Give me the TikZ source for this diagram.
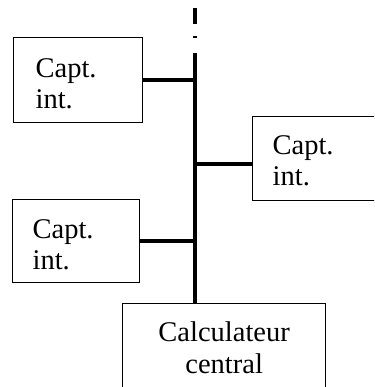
\documentclass[tikz,border=0pt]{standalone}
\usepackage{fontspec}
\setmainfont{Liberation Serif}
\begin{document}
\begin{tikzpicture}[x=1pt,y=-1pt,
  capbox/.style={draw, line width=1.3pt, rectangle, anchor=north west, align=left,
    font=\fontsize{28.5}{31}\selectfont, inner ysep=0pt},
  calcbox/.style={draw, line width=1.3pt, rectangle, anchor=north west, align=center,
    font=\fontsize{28.5}{32}\selectfont, inner ysep=0pt},
  bus/.style={line width=3.4pt},
  conn/.style={line width=3.6pt}]
\useasboundingbox (0,0) rectangle (374,387);
\clip (0,0) rectangle (374,387);
\fill[white] (0,0) rectangle (374,387);
\node[capbox, minimum width=129pt, minimum height=85pt, text width=85pt] (b1) at (13,37)
  {\rule{0pt}{26pt}Capt.\\int.};
\node[capbox, minimum width=130pt, minimum height=84pt, text width=90pt] (b2) at (252,116)
  {\rule{0pt}{24pt}Capt.\\int.};
\node[capbox, minimum width=127pt, minimum height=83pt, text width=87pt] (b3) at (12,199)
  {\rule{0pt}{26pt}Capt.\\int.};
\node[calcbox, minimum width=203pt, minimum height=100pt, text width=180pt] (calc) at (122,303)
  {\rule{0pt}{34pt}Calculateur\\central\rule[-26pt]{0pt}{26pt}};
\coordinate (d1a) at (195,8);
\coordinate (d1b) at (195,24);
\coordinate (d2a) at (195,36);
\coordinate (d2b) at (195,38.5);
\coordinate (bustop) at (195,53);
\coordinate (j2) at (195,164);
\draw[bus] (d1a) -- (d1b);
\draw[bus] (d2a) -- (d2b);
\draw[bus] (bustop) -- (bustop |- calc.north);
\draw[conn] (b1.east) -- (b1.east -| bustop);
\draw[conn] (j2) -- (j2 -| b2.west);
\draw[conn] (b3.east) -- (b3.east -| bustop);
\end{tikzpicture}
\end{document}
